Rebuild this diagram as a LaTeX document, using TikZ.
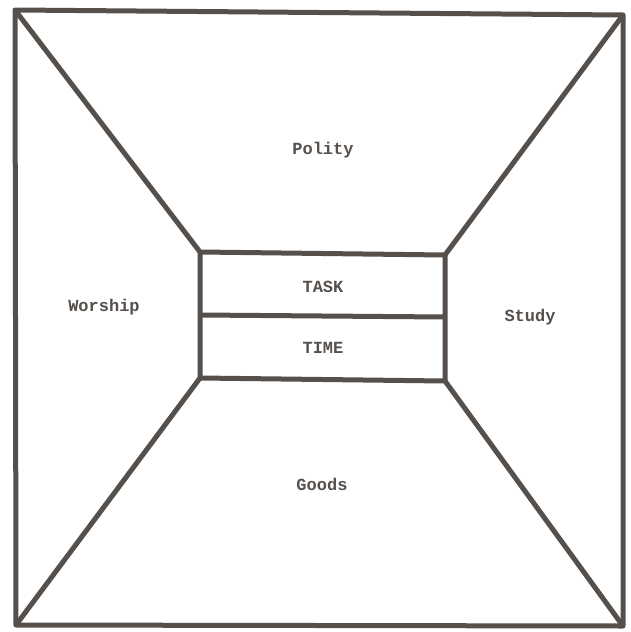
\documentclass[tikz,border=0pt]{standalone}
\usepackage{fontspec}
\setmonofont{Liberation Mono}
\begin{document}
\begin{tikzpicture}[x=1pt,y=-1pt,
  frame/.style={draw=ink,line width=5pt,line join=round},
  lbl/.style={font=\ttfamily\bfseries\fontsize{17}{19}\selectfont,text=ink}]
\definecolor{ink}{HTML}{55504C}
\useasboundingbox (0,0) rectangle (630,632);
\coordinate (A) at (15,10);
\coordinate (B) at (623,15);
\coordinate (C) at (623,626);
\coordinate (D) at (16,625);
\coordinate (a) at (200,252);
\coordinate (b) at (445,255);
\coordinate (c) at (445,381);
\coordinate (d) at (200,378);
\coordinate (ml) at (200,315);
\coordinate (mr) at (445,317);
\draw[frame] (A) -- (B) -- (C) -- (D) -- cycle;
\draw[frame] (a) -- (b) -- (c) -- (d) -- cycle;
\draw[frame] (ml) -- (mr);
\draw[frame] (A) -- (a);
\draw[frame] (B) -- (b);
\draw[frame] (C) -- (c);
\draw[frame] (D) -- (d);
\node[lbl] (polity) at (323,150) {Polity};
\node[lbl] (worship) at (104,307) {Worship};
\node[lbl] (study) at (530,317) {Study};
\node[lbl] (goods) at (322,484) {Goods};
\node[lbl] (task) at (323,287) {TASK};
\node[lbl] (time) at (323,348) {TIME};
\end{tikzpicture}
\end{document}
